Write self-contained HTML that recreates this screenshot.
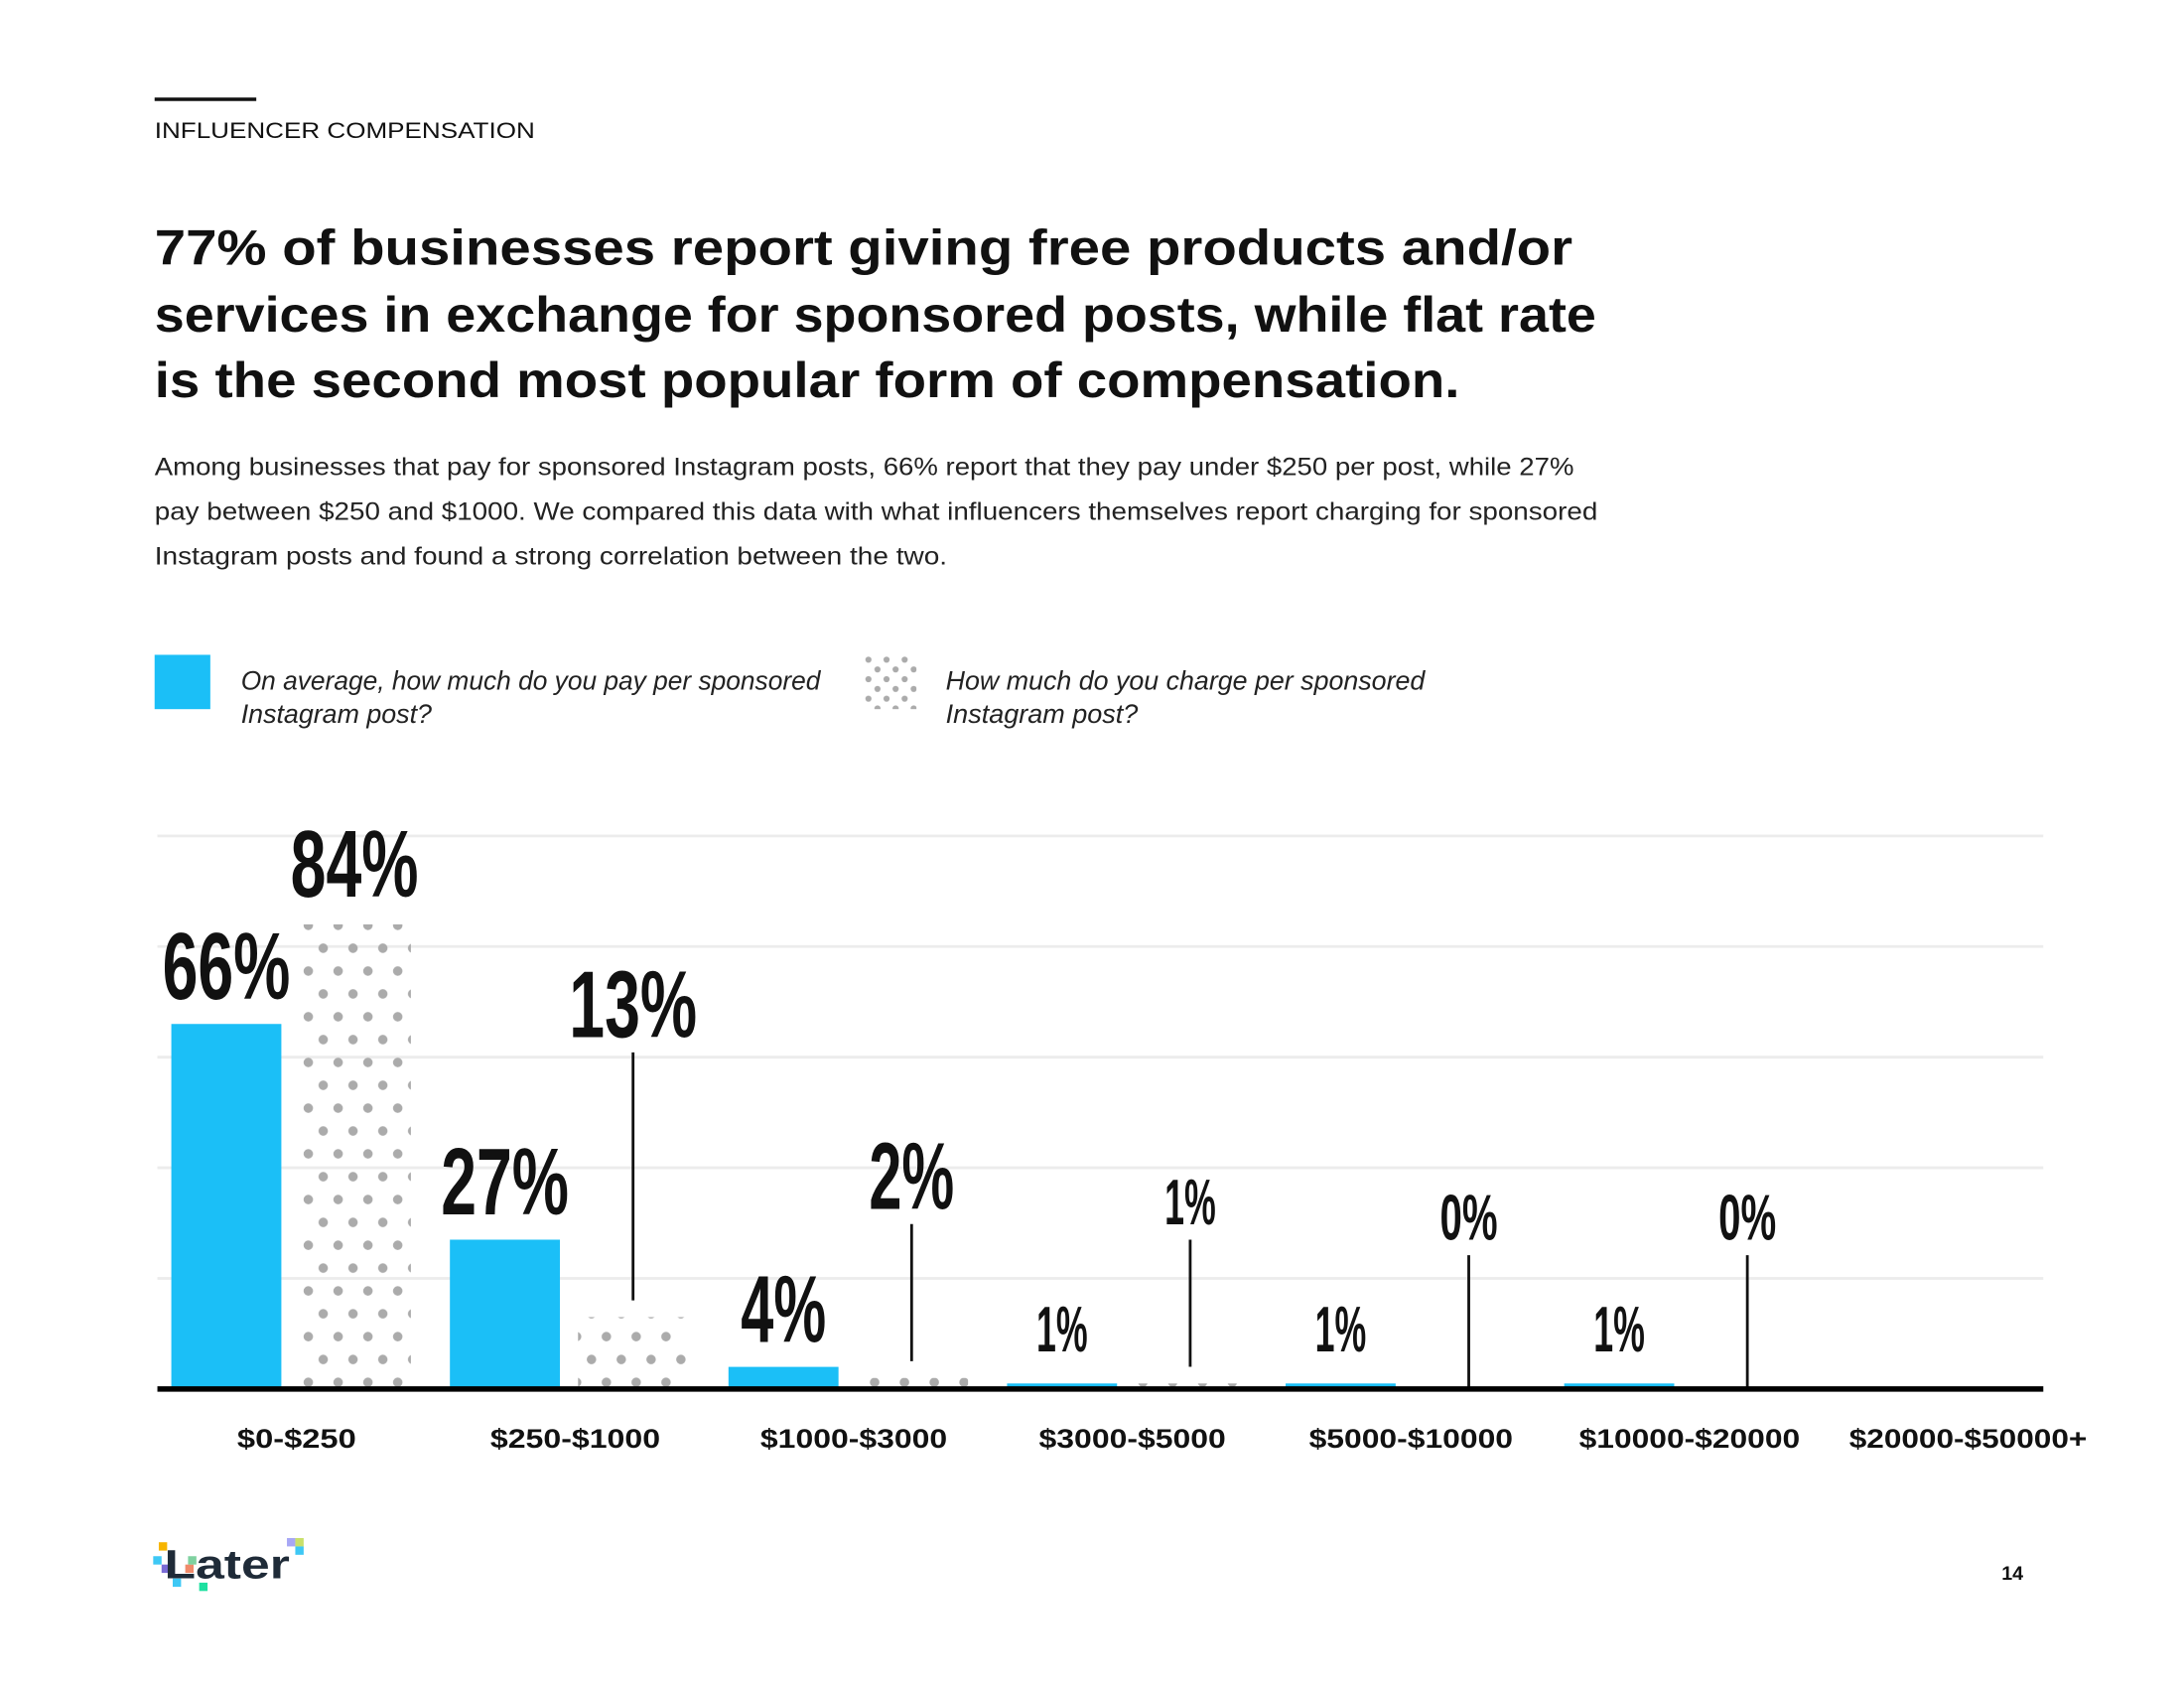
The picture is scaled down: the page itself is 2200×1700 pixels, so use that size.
<!DOCTYPE html>
<html><head><meta charset="utf-8"><style>
html,body{margin:0;padding:0;background:#fff;width:2200px;height:1700px;overflow:hidden}
svg{display:block}
.t{font-family:"Liberation Sans",sans-serif}
.c{font-family:"Liberation Sans Narrow","Liberation Sans",sans-serif;font-weight:bold;fill:#111}
</style></head><body>
<svg id="page" width="2200" height="1700" viewBox="0 0 1568 1211.6" xmlns="http://www.w3.org/2000/svg">
<defs>
<pattern id="dots" patternUnits="userSpaceOnUse" width="21.4" height="32.8" x="216" y="0">
<circle cx="5.35" cy="8.2" r="3.4" fill="#ababab"/>
<circle cx="16.05" cy="24.6" r="3.4" fill="#ababab"/>
</pattern>
</defs>
<rect x="111" y="70" width="73" height="2.5" fill="#111"/>
<text class="t" x="111" y="99" font-size="16" fill="#111" textLength="273" lengthAdjust="spacingAndGlyphs">INFLUENCER COMPENSATION</text>
<g class="t" font-weight="bold" font-size="36" fill="#111">
<text x="111" y="190" textLength="1018" lengthAdjust="spacingAndGlyphs">77% of businesses report giving free products and/or</text>
<text x="111" y="238" textLength="1035" lengthAdjust="spacingAndGlyphs">services in exchange for sponsored posts, while flat rate</text>
<text x="111" y="285" textLength="937" lengthAdjust="spacingAndGlyphs">is the second most popular form of compensation.</text>
</g>
<g class="t" font-size="18" fill="#222">
<text x="111" y="341" textLength="1019" lengthAdjust="spacingAndGlyphs">Among businesses that pay for sponsored Instagram posts, 66% report that they pay under $250 per post, while 27%</text>
<text x="111" y="373" textLength="1036" lengthAdjust="spacingAndGlyphs">pay between $250 and $1000. We compared this data with what influencers themselves report charging for sponsored</text>
<text x="111" y="405" textLength="569" lengthAdjust="spacingAndGlyphs">Instagram posts and found a strong correlation between the two.</text>
</g>
<g>
<rect x="111" y="470" width="40" height="39" fill="#1bbff7"/>
<g class="t" font-style="italic" font-size="19" fill="#222">
<text x="173" y="495" textLength="416" lengthAdjust="spacingAndGlyphs">On average, how much do you pay per sponsored</text>
<text x="173" y="519" textLength="137" lengthAdjust="spacingAndGlyphs">Instagram post?</text>
</g></g>
<g>
<pattern id="dots2" patternUnits="userSpaceOnUse" width="13" height="14" x="620" y="470">
<circle cx="3.5" cy="3.5" r="2.2" fill="#ababab"/>
<circle cx="10" cy="10.5" r="2.2" fill="#ababab"/>
</pattern>
<rect x="620" y="470" width="38" height="39" fill="url(#dots2)"/>
<g class="t" font-style="italic" font-size="19" fill="#222">
<text x="679" y="495" textLength="344" lengthAdjust="spacingAndGlyphs">How much do you charge per sponsored</text>
<text x="679" y="519" textLength="138" lengthAdjust="spacingAndGlyphs">Instagram post?</text>
</g></g>
<g id="chart"></g>
<g>
<rect x="114" y="1107" width="6" height="6" fill="#f7b500"/>
<rect x="110" y="1117" width="6" height="6" fill="#3ec8f5"/>
<rect x="116" y="1123" width="6" height="6" fill="#7a6bd6"/>
<rect x="133" y="1123" width="6" height="6" fill="#f08a6a"/>
<rect x="135" y="1117" width="6" height="6" fill="#7fd1a0"/>
<rect x="124" y="1133" width="6" height="6" fill="#3ec8f5"/>
<rect x="143" y="1136" width="6" height="6" fill="#1ee0a0"/>
<rect x="206" y="1104" width="6" height="6" fill="#a7a7f5"/>
<rect x="212" y="1104" width="6" height="6" fill="#c9e06a"/>
<rect x="212" y="1110" width="6" height="6" fill="#3ec8f5"/>
<text class="t" x="118" y="1133" font-size="29" font-weight="bold" fill="#1f2b38" textLength="90" lengthAdjust="spacingAndGlyphs">Later</text>
</g>
<text class="t" x="1437" y="1134" font-size="14" font-weight="bold" fill="#111">14</text>
</svg>
<script>
const categories = ["$0-$250","$250-$1000","$1000-$3000","$3000-$5000","$5000-$10000","$10000-$20000","$20000-$50000+"];
const payValues = [66, 27, 4, 1, 1, 1, null];
const chargeValues = [84, 13, 2, 1, 0, 0, null];
const gridTicks = [20, 40, 60, 80, 100];

const NS = "http://www.w3.org/2000/svg";
const chart = document.getElementById('chart');
const base = 997, top100 = 600, x0 = 113, x1 = 1467;
function y(v){ return base - (base - top100) * v / 100; }
function groupX(i){ return 123 + i * 200; }
const barW = 79, patOff = 92;
function mk(tag, attrs){ const e = document.createElementNS(NS, tag); for (const k in attrs) e.setAttribute(k, attrs[k]); chart.appendChild(e); return e; }

gridTicks.forEach(function(t){
  const g = mk('line', {x1:x0, x2:x1, y1:y(t), y2:y(t), stroke:'#ececec', 'stroke-width':2});
  
  
});

function pctLabel(val, cx, bottom, fs){
  const s = val + '%';
  const w = fs * (val === 1 ? 0.40 : 0.45) * s.length;
  const t = mk('text', {x: cx - w/2, y: bottom, 'font-size': fs, class:'c', textLength: w, lengthAdjust:'spacingAndGlyphs'});
  t.textContent = s;
  return t;
}

categories.forEach(function(cat, i){
  const gx = groupX(i);
  const pv = payValues[i], cv = chargeValues[i];
  if (pv !== null) {
    const r = mk('rect', {x: gx, y: y(pv), width: barW, height: base - y(pv), fill: '#1bbff7'});
    
    
    const fs = pv >= 2 ? 68 : 46;
    const lb = pctLabel(pv, gx + barW/2, Math.min(y(pv) - 18, base - 27), fs);
    
    
  }
  if (cv !== null) {
    const px = gx + patOff;
    if (cv > 0) {
      const r = mk('rect', {x: px, y: y(cv), width: barW + 1, height: base - y(cv), fill: 'url(#dots)'});
      
      
    }
    const cx = px + barW/2;
    if (cv >= 50) {
      const lb = pctLabel(cv, cx, y(cv) - 20, 68);
      
      
    } else {
      const lbBottom = base - (107 + 11.2 * cv);
      const lb = pctLabel(cv, cx, lbBottom, cv >= 2 ? 68 : 46);
      
      
      const endY = cv > 0 ? y(cv) - 12 : base;
      const ln = mk('line', {x1: cx, x2: cx, y1: lbBottom + 11, y2: endY, stroke: '#111', 'stroke-width': 2});
      
      
    }
  }
  const tw = 12.2 * cat.length;
  const ct = mk('text', {x: gx + 90 - tw/2, y: 1039, 'font-size': 19, 'font-weight':'bold', fill:'#111', class:'t', textLength: tw, lengthAdjust:'spacingAndGlyphs'});
  ct.textContent = cat;
  
  
});

const axis = mk('line', {x1: x0, x2: x1, y1: base, y2: base, stroke: '#000', 'stroke-width': 4});


</script>
</body></html>
